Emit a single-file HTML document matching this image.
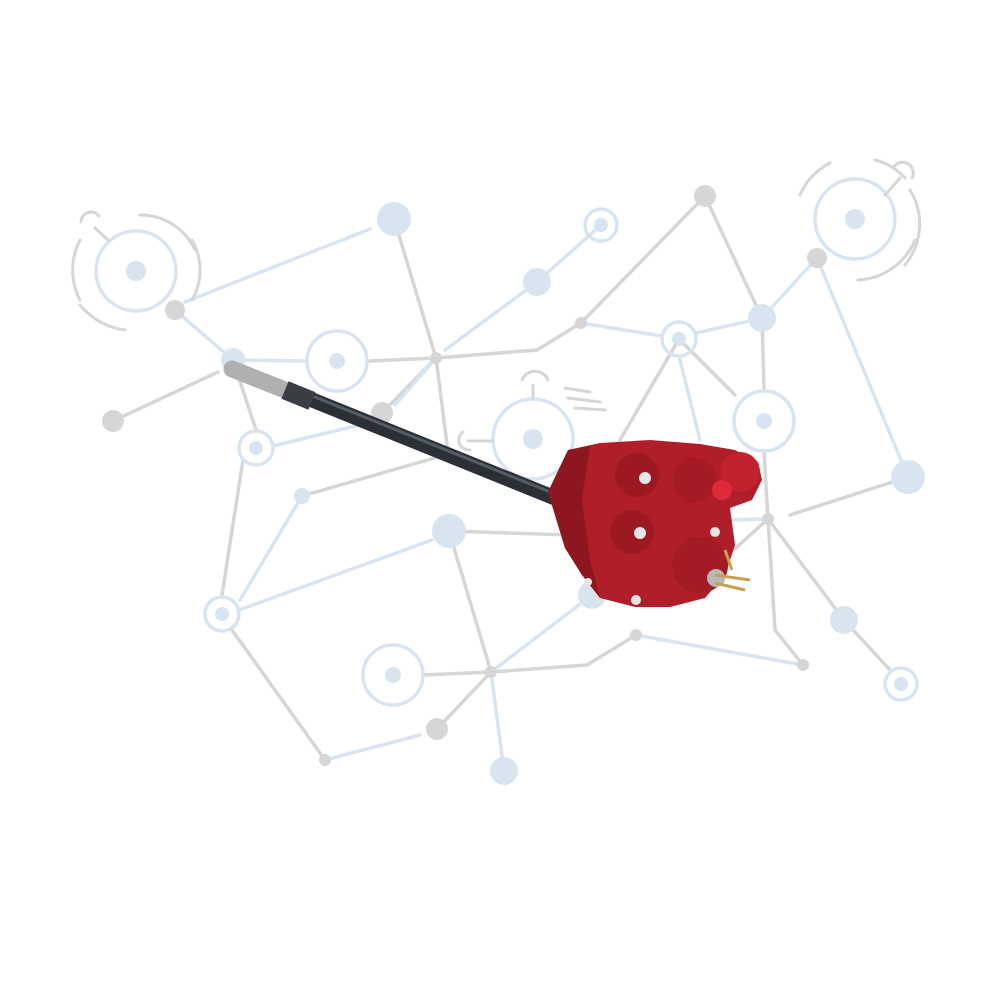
<!DOCTYPE html>
<html><head><meta charset="utf-8"><style>html,body{margin:0;padding:0;background:#fff}svg{display:block}</style></head>
<body>
<svg width="1000" height="1000" viewBox="0 0 1000 1000" xmlns="http://www.w3.org/2000/svg">
<g stroke-width="3.5" fill="none" stroke-linecap="round">
<g stroke="#d6d6d6">
<line x1="394" y1="219" x2="436" y2="358"/>
<line x1="436" y1="358" x2="382" y2="413"/>
<line x1="436" y1="358" x2="449" y2="460"/>
<line x1="436" y1="358" x2="537" y2="350"/>
<line x1="537" y1="350" x2="581" y2="323"/>
<line x1="581" y1="323" x2="705" y2="196"/>
<line x1="705" y1="196" x2="762" y2="318"/>
<line x1="762" y1="318" x2="764" y2="390"/>
<line x1="679" y1="339" x2="620" y2="440"/>
<line x1="679" y1="339" x2="735" y2="395"/>
<line x1="113" y1="421" x2="218" y2="372"/>
<line x1="256" y1="430" x2="233" y2="360"/>
<line x1="243" y1="460" x2="222" y2="595"/>
<line x1="370" y1="361" x2="436" y2="358"/>
<line x1="302" y1="496" x2="445" y2="455"/>
<line x1="449" y1="531" x2="491" y2="672"/>
<line x1="449" y1="531" x2="570" y2="535"/>
<line x1="491" y1="672" x2="423" y2="675"/>
<line x1="491" y1="672" x2="587" y2="665"/>
<line x1="587" y1="665" x2="636" y2="635"/>
<line x1="491" y1="672" x2="437" y2="729"/>
<line x1="232" y1="630" x2="325" y2="760"/>
<line x1="768" y1="519" x2="844" y2="620"/>
<line x1="768" y1="519" x2="775" y2="630"/>
<line x1="775" y1="630" x2="803" y2="665"/>
<line x1="844" y1="620" x2="890" y2="670"/>
<line x1="908" y1="477" x2="790" y2="515"/>
<line x1="768" y1="519" x2="700" y2="580"/>
<line x1="764" y1="451" x2="768" y2="519"/>
</g>
<g stroke="#d8e4ef">
<line x1="185" y1="302" x2="370" y2="229"/>
<line x1="175" y1="310" x2="233" y2="360"/>
<line x1="233" y1="360" x2="307" y2="361"/>
<line x1="445" y1="350" x2="537" y2="282"/>
<line x1="537" y1="282" x2="601" y2="225"/>
<line x1="581" y1="323" x2="662" y2="336"/>
<line x1="696" y1="333" x2="762" y2="318"/>
<line x1="762" y1="318" x2="817" y2="258"/>
<line x1="817" y1="258" x2="908" y2="477"/>
<line x1="679" y1="356" x2="700" y2="440"/>
<line x1="436" y1="358" x2="395" y2="405"/>
<line x1="273" y1="446" x2="380" y2="420"/>
<line x1="302" y1="496" x2="240" y2="600"/>
<line x1="239" y1="610" x2="432" y2="540"/>
<line x1="491" y1="672" x2="592" y2="595"/>
<line x1="491" y1="672" x2="504" y2="771"/>
<line x1="325" y1="760" x2="420" y2="735"/>
<line x1="636" y1="635" x2="803" y2="665"/>
<line x1="720" y1="520" x2="768" y2="519"/>
</g>
<g stroke="#d8e4ef" stroke-width="3.5">
<circle cx="136" cy="271" r="40"/>
<circle cx="337" cy="361" r="30"/>
<circle cx="601" cy="225" r="16"/>
<circle cx="679" cy="339" r="17"/>
<circle cx="764" cy="421" r="30"/>
<circle cx="256" cy="448" r="17"/>
<circle cx="222" cy="614" r="17"/>
<circle cx="393" cy="675" r="30"/>
<circle cx="901" cy="684" r="16"/>
<circle cx="855" cy="219" r="40"/>
<circle cx="533" cy="439" r="40"/>
</g>
<g stroke="#d6d6d6" stroke-width="3">
<path d="M80 300 A65 65 0 0 1 80 240"/>
<path d="M192 240 A60 60 0 0 1 192 300"/>
<path d="M140 215 A60 60 0 0 1 195 250"/>
<path d="M80 305 A70 70 0 0 0 125 330"/>
<path d="M800 195 A65 65 0 0 1 830 163"/>
<path d="M910 190 A65 65 0 0 1 905 265"/>
<path d="M875 160 A60 60 0 0 1 905 178"/>
<path d="M858 280 A65 65 0 0 0 915 240"/>
<path d="M81 222 A10 10 0 0 1 99 216"/>
<path d="M893 168 A10 10 0 0 1 912 178"/>
<path d="M470 450 A10 10 0 0 1 463 432"/>
<path d="M522 380 A14 14 0 0 1 548 380"/>
<line x1="95" y1="228" x2="108" y2="240"/>
<line x1="885" y1="195" x2="900" y2="178"/>
<line x1="533" y1="385" x2="533" y2="398"/>
<line x1="468" y1="441" x2="492" y2="441"/>
<line x1="565" y1="388" x2="590" y2="392"/>
<line x1="568" y1="398" x2="600" y2="402"/>
<line x1="575" y1="408" x2="605" y2="410"/>
</g>
</g>
<g fill="#d6d6d6">
<circle cx="175" cy="310" r="10"/><circle cx="113" cy="421" r="11"/>
<circle cx="705" cy="196" r="11"/><circle cx="817" cy="258" r="10"/>
<circle cx="382" cy="413" r="11"/><circle cx="436" cy="358" r="6"/>
<circle cx="581" cy="323" r="6"/><circle cx="768" cy="519" r="6"/>
<circle cx="636" cy="635" r="6"/><circle cx="803" cy="665" r="6"/>
<circle cx="491" cy="672" r="6"/><circle cx="437" cy="729" r="11"/>
<circle cx="325" cy="760" r="6"/>
</g>
<g fill="#d8e4ef">
<circle cx="394" cy="219" r="17"/><circle cx="537" cy="282" r="14"/>
<circle cx="762" cy="318" r="14"/><circle cx="908" cy="477" r="17"/>
<circle cx="449" cy="531" r="17"/><circle cx="592" cy="595" r="14"/>
<circle cx="844" cy="620" r="14"/><circle cx="504" cy="771" r="14"/>
<circle cx="233" cy="360" r="12"/><circle cx="302" cy="496" r="8"/>
<circle cx="136" cy="271" r="10"/><circle cx="337" cy="361" r="8"/>
<circle cx="601" cy="225" r="7"/><circle cx="679" cy="339" r="7"/>
<circle cx="764" cy="421" r="8"/><circle cx="256" cy="448" r="7"/>
<circle cx="222" cy="614" r="7"/><circle cx="393" cy="675" r="8"/>
<circle cx="901" cy="684" r="7"/><circle cx="855" cy="219" r="10"/>
<circle cx="533" cy="439" r="10"/>
</g>
<line x1="300" y1="395" x2="560" y2="500" stroke="#2b3036" stroke-width="15" stroke-linecap="round"/>
<line x1="300" y1="391" x2="560" y2="496" stroke="#555c64" stroke-width="3"/>
<line x1="232" y1="369" x2="285" y2="390" stroke="#b0b0b0" stroke-width="17" stroke-linecap="round"/>
<line x1="285" y1="390" x2="312" y2="401" stroke="#3a3e44" stroke-width="19"/>
<path d="M548 492 L568 450 L600 443 L650 440 L700 444 L735 450 L758 462 L762 480 L752 500 L730 508 L735 545 L725 575 L705 598 L670 607 L635 607 L600 598 L582 575 L565 548 Z" fill="#b01e29"/>
<path d="M548 492 L568 450 L590 446 L582 500 L590 560 L600 598 L582 575 L565 548 Z" fill="#8e1620"/>
<circle cx="637" cy="475" r="22" fill="#9c1922"/>
<circle cx="632" cy="532" r="22" fill="#9c1922"/>
<circle cx="695" cy="480" r="22" fill="#a51b25"/>
<circle cx="740" cy="472" r="20" fill="#c0222e"/>
<circle cx="700" cy="565" r="28" fill="#a31b24"/>
<circle cx="722" cy="490" r="10" fill="#e02a3a"/>
<g fill="#e6e6e6">
<circle cx="645" cy="478" r="6"/><circle cx="640" cy="533" r="6"/>
<circle cx="715" cy="532" r="5"/><circle cx="636" cy="600" r="5"/>
<circle cx="588" cy="582" r="4"/>
</g>
<circle cx="716" cy="578" r="9" fill="#b8b8b8"/>
<g stroke="#c8a050" stroke-width="3">
<line x1="715" y1="575" x2="750" y2="580"/>
<line x1="715" y1="583" x2="745" y2="590"/>
<line x1="725" y1="550" x2="732" y2="570"/>
</g>
</svg>
</body></html>
